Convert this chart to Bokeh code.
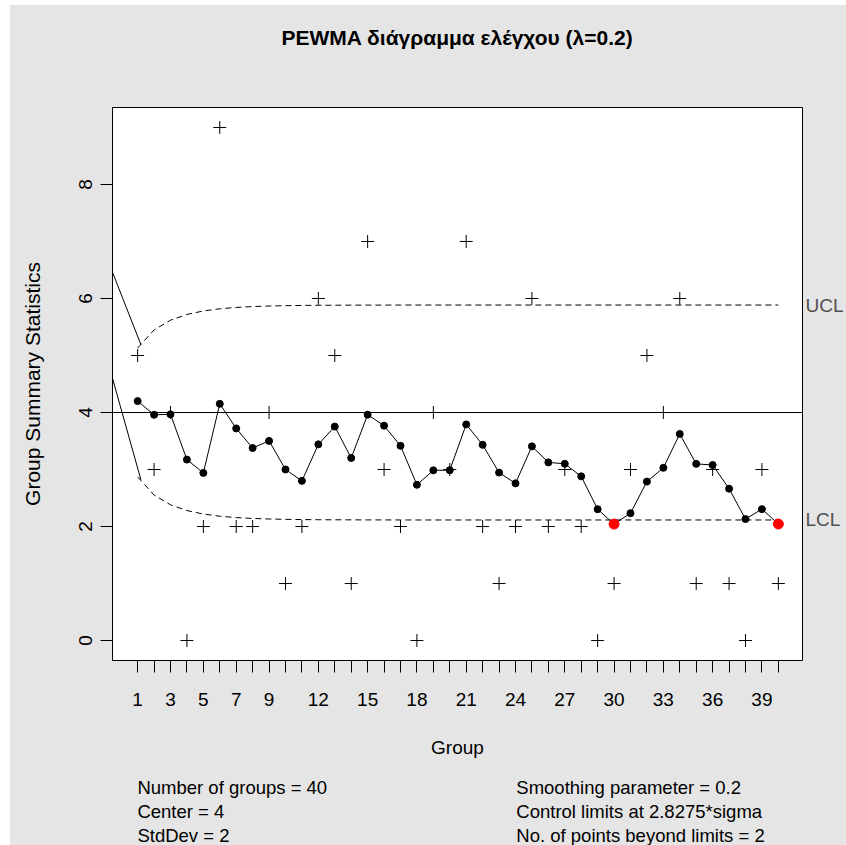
from bokeh.plotting import figure
from bokeh.models import Range1d, FixedTicker, Span, Spacer, LinearAxis
from bokeh.layouts import row, column
from bokeh.embed import file_html
from bokeh.resources import INLINE
from bokeh.core.properties import value

# Poisson EWMA chart data, lambda = 0.2
groups = list(range(1, 41))
counts = [5, 3, 4, 0, 2, 9, 2, 2, 4, 1, 2, 6, 5, 1, 7, 3, 2, 0, 4, 3,
          7, 2, 1, 2, 6, 2, 3, 2, 0, 1, 3, 5, 4, 6, 1, 3, 1, 0, 3, 1]
ewma = [4.200, 3.960, 3.968, 3.174, 2.940, 4.152, 3.721, 3.377, 3.502, 3.001,
        2.801, 3.441, 3.753, 3.202, 3.962, 3.769, 3.416, 2.732, 2.986, 2.989,
        3.791, 3.433, 2.946, 2.757, 3.406, 3.125, 3.100, 2.880, 2.304, 2.043,
        2.234, 2.788, 3.030, 3.624, 3.099, 3.079, 2.664, 2.131, 2.305, 2.044]
ucl = [5.131, 5.448, 5.619, 5.720, 5.781, 5.819, 5.843, 5.858, 5.868, 5.874,
       5.878, 5.881, 5.882, 5.883, 5.884, 5.884, 5.885, 5.885, 5.885, 5.885,
       5.885, 5.885, 5.885, 5.885, 5.885, 5.885, 5.885, 5.885, 5.885, 5.885,
       5.885, 5.885, 5.885, 5.885, 5.885, 5.885, 5.885, 5.885, 5.885, 5.885]
lcl = [2.869, 2.552, 2.381, 2.280, 2.219, 2.181, 2.157, 2.142, 2.132, 2.126,
       2.122, 2.119, 2.118, 2.117, 2.116, 2.116, 2.115, 2.115, 2.115, 2.115,
       2.115, 2.115, 2.115, 2.115, 2.115, 2.115, 2.115, 2.115, 2.115, 2.115,
       2.115, 2.115, 2.115, 2.115, 2.115, 2.115, 2.115, 2.115, 2.115, 2.115]
center = 4.0

# solid lead-in segments of the limits at the left edge
lead_x = [-0.53, 1.2]
lead_upper = [6.46, 5.19]
lead_lower = [4.60, 2.82]

tick_labels = ["1", "3", "5", "7", "9", "12", "15", "18", "21", "24",
               "27", "30", "33", "36", "39"]
y_ticks = [0, 2, 4, 6, 8]

title_text = "PEWMA διάγραμμα ελέγχου (λ=0.2)"
x_title = "Group"
y_title = "Group Summary Statistics"
stats_left = ["Number of groups = 40", "Center = 4", "StdDev = 2"]
stats_right = ["Smoothing parameter =  0.2", "Control limits at 2.8275*sigma",
               "No. of points beyond limits = 2"]

FONT = "Liberation Sans"
BG = "#E5E5E5"


def text_strip(height, top, bottom):
    """A gray strip whose frame spans the chart columns, in page pixels (y downward)."""
    f = figure(width=836, height=height, x_range=Range1d(112, 804), y_range=Range1d(bottom, top),
               output_backend="svg", toolbar_location=None,
               x_axis_location=None, y_axis_location=None,
               min_border_left=102, min_border_right=42, min_border_top=0, min_border_bottom=0)
    f.border_fill_color = BG
    f.background_fill_color = BG
    f.outline_line_color = None
    f.grid.visible = False
    return f


# title strip
t = text_strip(65, 5, 70)
t.text(x=[458], y=[37], text=[title_text], text_font=value(FONT), text_font_size="21px",
       text_font_style="bold", text_align="center", text_baseline="middle", text_color="black")

p = figure(width=836, height=695,
           x_range=Range1d(-0.53, 41.47), y_range=Range1d(-0.35, 9.35),
           output_backend="svg", toolbar_location=None,
           min_border_left=102, min_border_right=42,
           min_border_top=37, min_border_bottom=105)
p.title.visible = False
p.border_fill_color = BG
p.background_fill_color = "white"
p.outline_line_color = "black"
p.outline_line_width = 1
p.grid.visible = False

# axes in base-graphics style
xa = p.xaxis[0]
xa.ticker = FixedTicker(ticks=groups)
xa.major_label_overrides = {g: (str(g) if str(g) in tick_labels else "") for g in groups}
ya = p.yaxis[0]
ya.ticker = FixedTicker(ticks=y_ticks)
ya.major_label_orientation = "vertical"
for ax in (xa, ya):
    ax.axis_line_color = None
    ax.major_tick_out = 12
    ax.major_tick_in = 0
    ax.minor_tick_line_color = None
    ax.major_tick_line_color = "black"
    ax.major_label_text_font = FONT
    ax.major_label_text_font_size = "19px"
    ax.major_label_text_color = "black"
    ax.axis_label_text_font = FONT
    ax.axis_label_text_font_style = "normal"
    ax.axis_label_text_color = "black"
xa.major_label_standoff = 20
ya.major_label_standoff = 8
xa.axis_label = x_title
xa.axis_label_text_font_size = "19px"
xa.axis_label_standoff = 28
ya.axis_label = y_title
ya.axis_label_text_font_size = "21px"
ya.axis_label_standoff = 33

# limit names on the right side
ra = LinearAxis(ticker=FixedTicker(ticks=[lcl[-1], ucl[-1]]),
                major_label_overrides={lcl[-1]: "LCL", ucl[-1]: "UCL"})
ra.axis_line_color = None
ra.major_tick_line_color = None
ra.minor_tick_line_color = None
ra.major_tick_out = 0
ra.major_tick_in = 0
ra.major_label_standoff = 3
ra.major_label_text_font = FONT
ra.major_label_text_font_size = "19px"
ra.major_label_text_color = "#505050"
p.add_layout(ra, "right")

# center line and control limits
p.add_layout(Span(location=center, dimension="width", line_color="black", line_width=1))
p.line(groups, ucl, line_color="black", line_width=1, line_dash="6 4")
p.line(groups, lcl, line_color="black", line_width=1, line_dash="6 4")
p.line(lead_x, lead_upper, line_color="black", line_width=1)
p.line(lead_x, lead_lower, line_color="black", line_width=1)

# raw counts
p.scatter(groups, counts, marker="cross", size=13, line_color="black", line_width=1)

# smoothed statistic, points beyond the limits in red
p.line(groups, ewma, line_color="black", line_width=1)
inside = [i for i in range(len(groups)) if lcl[i] <= ewma[i] <= ucl[i]]
outside = [i for i in range(len(groups)) if not (lcl[i] <= ewma[i] <= ucl[i])]
p.scatter([groups[i] for i in inside], [ewma[i] for i in inside],
          marker="circle", size=7, fill_color="black", line_color="black")
p.scatter([groups[i] for i in outside], [ewma[i] for i in outside],
          marker="circle", size=10, fill_color="red", line_color="red")

# summary text strip below the chart
s = text_strip(80, 765, 845)
rows_y = [787, 811, 835]
s.text(x=[137] * 3, y=rows_y, text=stats_left, text_font=value(FONT),
       text_font_size="18.5px", text_baseline="middle", text_align="left", text_color="black")
s.text(x=[517] * 3, y=rows_y, text=stats_right, text_font=value(FONT),
       text_font_size="18.5px", text_baseline="middle", text_align="left", text_color="black")

chart = column(t, p, s)
chart.styles = {"background-color": BG}
layout = column(Spacer(height=5), row(Spacer(width=10), chart))
open("out.html", "w").write(file_html(layout, INLINE))
